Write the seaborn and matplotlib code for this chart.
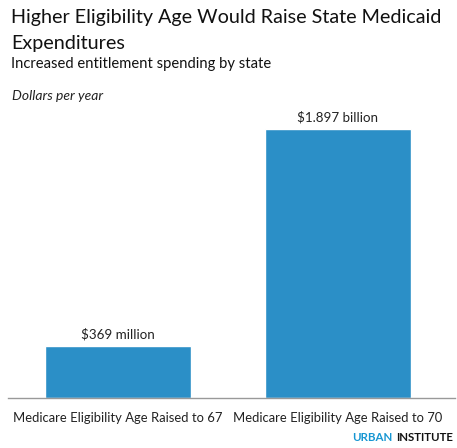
import matplotlib
matplotlib.use('Agg')
import matplotlib.pyplot as plt
import seaborn as sns
import pandas as pd

categories = ['Medicare Eligibility Age Raised to 67', 'Medicare Eligibility Age Raised to 70']
spending_millions = [369, 1897]
value_labels = ['$369 million', '$1.897 billion']

sns.set_style('white')
plt.rcParams['font.family'] = ['Lato', 'DejaVu Sans']

df = pd.DataFrame({'scenario': categories, 'spending': spending_millions})

fig = plt.figure(figsize=(4.57, 4.48), dpi=100)
ax = fig.add_axes([8 / 457, 1 - 398 / 448, 447 / 457, 288 / 448])

sns.barplot(data=df, x='scenario', y='spending', color='#2b8fc7', saturation=1,
            width=0.664, ax=ax)
ax.set_ylim(0, 2031)
ax.set_xlim(-0.5, 1.532)

for i, lab in enumerate(value_labels):
    ax.text(i, spending_millions[i] + 40, lab, ha='center', va='bottom',
            fontsize=9.6, color='#222222')

ax.set_xlabel('')
ax.set_ylabel('')
ax.set_yticks([])
ax.tick_params(axis='x', length=0, labelsize=9.4, pad=10, colors='#222222')
for s in ['top', 'left', 'right']:
    ax.spines[s].set_visible(False)
ax.spines['bottom'].set_color('#999999')
ax.spines['bottom'].set_linewidth(1)

fig.text(11 / 457, 1 - 18 / 448, 'Higher Eligibility Age Would Raise State Medicaid',
         fontsize=14.2, va='center', ha='left', color='#111111')
fig.text(11 / 457, 1 - 43 / 448, 'Expenditures',
         fontsize=14.2, va='center', ha='left', color='#111111')
fig.text(11 / 457, 1 - 64 / 448, 'Increased entitlement spending by state',
         fontsize=10.6, va='center', ha='left', color='#111111')
fig.text(12 / 457, 1 - 96 / 448, 'Dollars per year', fontsize=10, style='italic',
         va='center', ha='left', color='#222222')

fig.text(352 / 457, 1 - 437 / 448, 'URBAN', fontsize=8.3, weight='bold',
         color='#1696d2', va='center', ha='left')
fig.text(396 / 457, 1 - 437 / 448, 'INSTITUTE', fontsize=8.3, weight='bold',
         color='#111111', va='center', ha='left')

fig.savefig('out.png', dpi=100)
